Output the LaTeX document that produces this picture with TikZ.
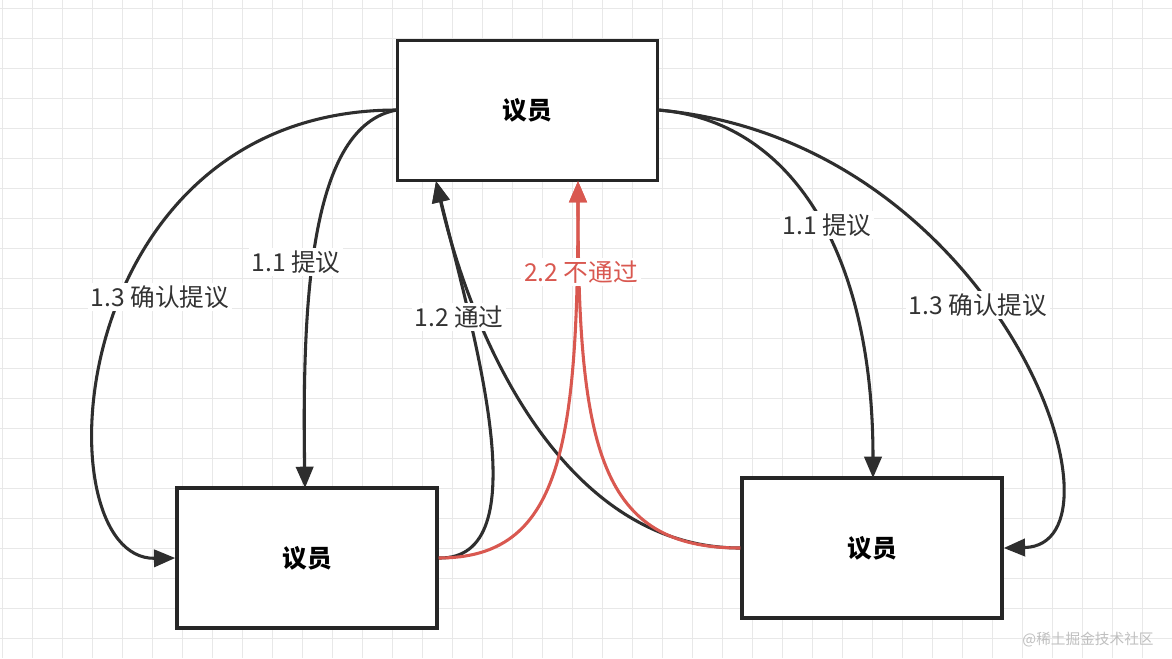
\documentclass[tikz,border=0pt]{standalone}
\usepackage{fontspec}
\setmainfont{Noto Sans CJK SC}
\usetikzlibrary{arrows.meta}
\definecolor{redline}{RGB}{217,88,80}
\definecolor{gridc}{RGB}{232,232,232}
\begin{document}
\begin{tikzpicture}[x=0.75pt,y=-0.75pt,
  box/.style={draw=black!85,line width=2.6pt,fill=white,minimum width=195pt,minimum height=105pt,inner sep=0pt,font=\fontsize{18.5}{20}\selectfont\bfseries},
  conn/.style={draw=black!82,line width=2.3pt,-{Triangle[length=16pt,width=13pt]}},
  rconn/.style={conn,draw=redline},
  lab/.style={fill=white,inner sep=2pt,font=\fontsize{18.5}{20}\selectfont,text=black!80}]
\fill[white] (0,0) rectangle (1172,658);
\useasboundingbox (0,0) rectangle (1172,658);
\foreach \x in {2,32,...,1172} \draw[gridc,line width=0.7pt] (\x,0) -- (\x,658);
\foreach \y in {8,38,...,658} \draw[gridc,line width=0.7pt] (0,\y) -- (1172,\y);
\node[box] (T) at (527.5,110.5) {议员};
\node[box] (L) at (307,558) {议员};
\node[box] (R) at (872,548) {议员};
\coordinate (tl) at (397,110);
\coordinate (tr) at (658,110);
% left side
\draw[conn] (tl) .. controls (60,110) and (40,560) .. (L.west);
\draw[conn] (tl) .. controls (310,125) and (302,300) .. (305,488);
\draw[conn] (L.east) .. controls (540,560) and (475,340) .. (436,181);
\draw[conn] (R.west) .. controls (560,548) and (470,330) .. (436,181);
\draw[rconn] (L.east) .. controls (560,558) and (578,450) .. (578,181);
\draw[rconn] (R.west) .. controls (600,548) and (578,450) .. (578,181);
% right side
\draw[conn] (tr) .. controls (790,120) and (873,250) .. (873,478);
\draw[conn] (tr) .. controls (1000,140) and (1140,545) .. (R.east);
\node[lab] (a) at (160,297) {1.3 确认提议};
\node[lab] (b) at (296,262) {1.1 提议};
\node[lab] (c) at (459,317) {1.2 通过};
\node[lab,text=redline] (d) at (581,272) {2.2 不通过};
\node[lab] (e) at (827,225) {1.1 提议};
\node[lab] (f) at (978,305) {1.3 确认提议};
\node[text=black!25,font=\fontsize{11}{13}\selectfont] (w) at (1088,640) {@稀土掘金技术社区};
\end{tikzpicture}
\end{document}
